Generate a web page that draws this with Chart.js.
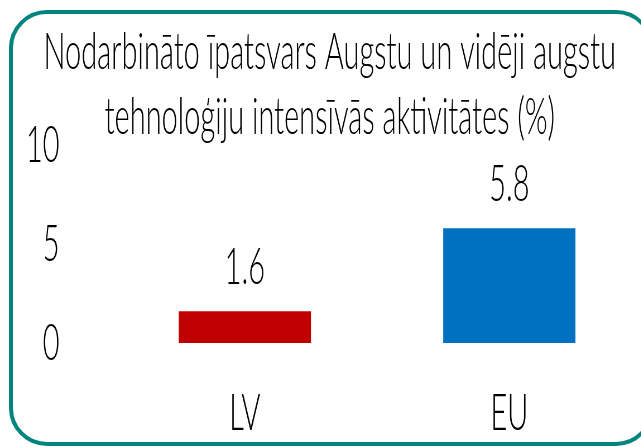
<!DOCTYPE html>
<html>
<head>
<meta charset="utf-8">
<script src="https://cdn.jsdelivr.net/npm/chart.js@4.4.0/dist/chart.umd.min.js"></script>
<style>
  html, body { margin: 0; padding: 0; background: #fff; overflow: hidden; width: 641px; height: 447px; }
  #wrap { position: absolute; left: 0; top: 0; height: 447px; transform-origin: 0 0; }
  #frame { position: absolute; left: 9px; top: 10px; width: 645px; height: 436px; box-sizing: border-box;
           border: 4px solid #00857d; border-radius: 38px; pointer-events: none; }
</style>
</head>
<body>
<div id="wrap"><canvas id="chart"></canvas></div>
<div id="frame"></div>
<script>
const titleLines = ['Nodarbināto īpatsvars Augstu un vidēji augstu', 'tehnoloģiju intensīvās aktivitātes (%)'];
const categories = ['LV', 'EU'];
const values = [1.6, 5.8];
const barColors = ['#c00000', '#0070c0'];
const yTicks = [0, 5, 10];

const FONT = 'Lato';
const WEIGHT = 300;
const SIZE = 52;

// the reference uses a very condensed face: draw on a wider canvas and squeeze it
const m = document.createElement('canvas').getContext('2d');
m.font = `${WEIGHT} ${SIZE}px ${FONT}`;
const squeeze = 572 / m.measureText(titleLines[0]).width;
const W = 641 / squeeze;
const wrap = document.getElementById('wrap');
wrap.style.width = W + 'px';
wrap.style.transform = `scaleX(${squeeze})`;

const padLeft = 18 / squeeze;
const labelRight = 64 / squeeze;
const plotLeft = 112.5 / squeeze;
const plotBottom = 343;

const valueLabels = {
  id: 'valueLabels',
  afterDatasetsDraw(chart) {
    const ctx = chart.ctx;
    ctx.save();
    ctx.font = `${WEIGHT} ${SIZE}px ${FONT}`;
    ctx.fillStyle = '#000';
    ctx.textAlign = 'center';
    ctx.textBaseline = 'alphabetic';
    chart.getDatasetMeta(0).data.forEach((bar, i) => {
      ctx.fillText(values[i].toFixed(1), bar.x, bar.y - 27);
    });
    ctx.restore();
  }
};

const font = { family: FONT, size: SIZE, weight: WEIGHT };

new Chart(document.getElementById('chart'), {
  type: 'bar',
  data: {
    labels: categories,
    datasets: [{ data: values, backgroundColor: barColors, borderWidth: 0,
                 categoryPercentage: 1, barPercentage: 0.5 }]
  },
  options: {
    responsive: true,
    maintainAspectRatio: false,
    animation: false,
    layout: { padding: { left: padLeft, right: 0, top: 0, bottom: 0 } },
    plugins: {
      legend: { display: false },
      tooltip: { enabled: false },
      title: {
        display: true,
        text: titleLines,
        color: '#000',
        font: { family: FONT, size: SIZE, weight: WEIGHT, lineHeight: 65 / SIZE },
        padding: { top: 20, bottom: -5 }
      }
    },
    scales: {
      x: {
        grid: { display: false },
        border: { display: false },
        ticks: { color: '#000', font, padding: 31 },
        afterFit: s => { s.height = 447 - plotBottom; }
      },
      y: {
        min: 0, max: 10,
        grid: { display: false },
        border: { display: false },
        afterBuildTicks: s => { s.ticks = yTicks.map(v => ({ value: v })); },
        ticks: { color: '#000', font, padding: plotLeft - labelRight },
        afterFit: s => {
          s.width = plotLeft - padLeft;
          s.paddingTop = 0;
          s.paddingBottom = 0;
        }
      }
    }
  },
  plugins: [valueLabels]
});
</script>
</body>
</html>
